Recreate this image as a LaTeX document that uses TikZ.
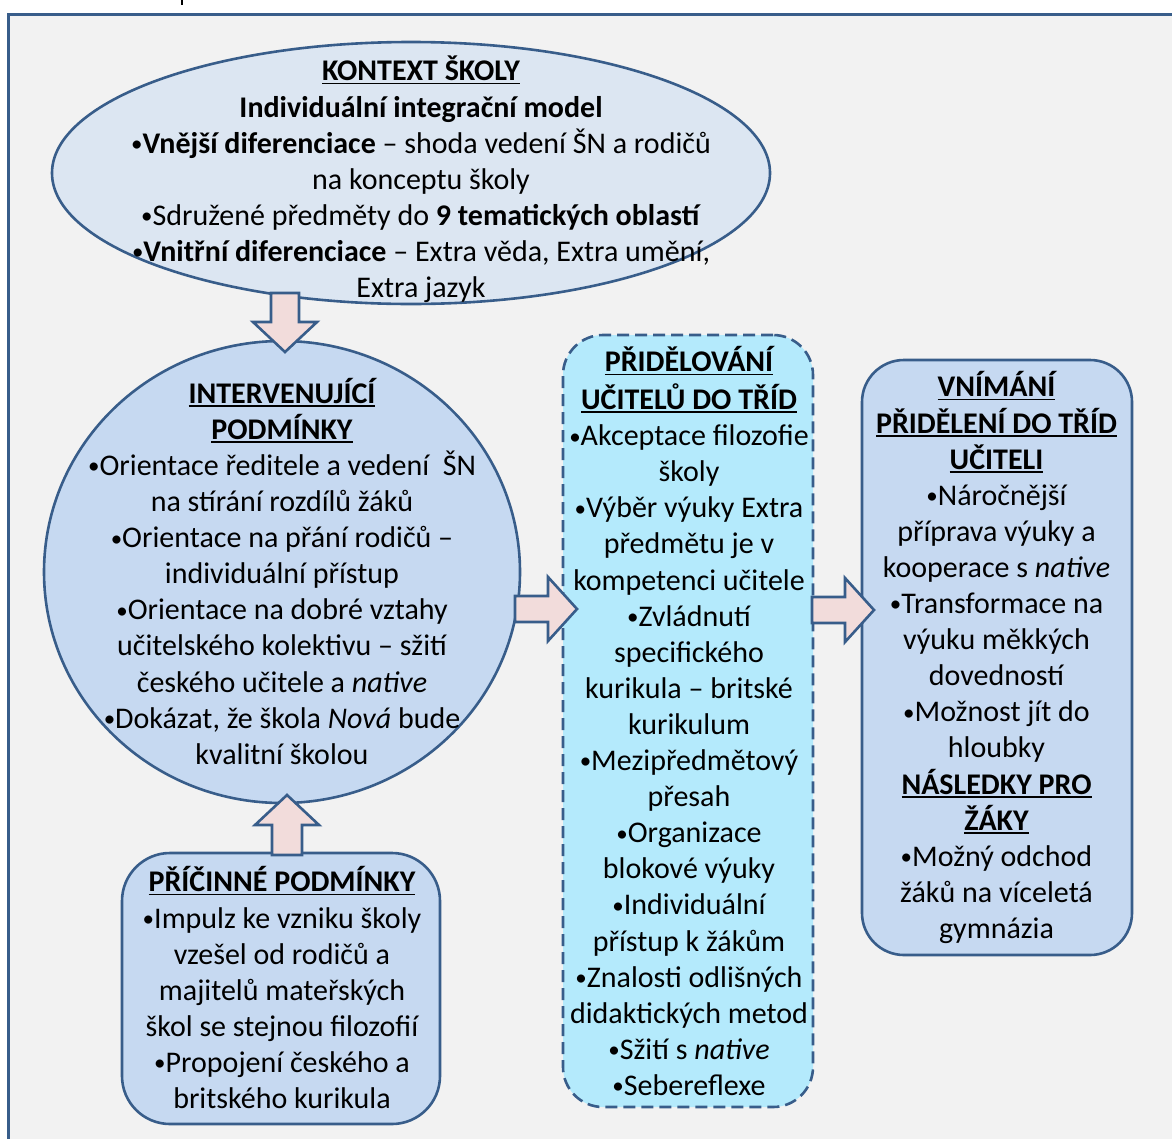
\documentclass[tikz,border=0pt]{standalone}
\usepackage{fontspec}
\setmainfont{Carlito}
\usetikzlibrary{shapes.geometric}

\definecolor{edge}{RGB}{56,93,138}
\definecolor{paper}{RGB}{242,242,242}
\definecolor{ctxfill}{RGB}{220,230,242}
\definecolor{boxfill}{RGB}{198,217,241}
\definecolor{cyanfill}{RGB}{180,234,252}
\definecolor{arrowfill}{RGB}{242,220,219}

% bold heading with an underline
\newcommand\ulhead[1]{\setbox0\hbox{\bfseries #1}\rlap{\rule[-3.5pt]{\wd0}{1.6pt}}\box0}
% small list bullet
\newcommand\bul{\raisebox{1.6pt}{\fontsize{23}{23}\selectfont •}}

% block arrows, drawn from a named tail coordinate
\newcommand\rightblock[1]{\draw[blockarrow,shift={(#1)}] (0,-13) -- (33,-13) -- (33,-32) -- (62,0) -- (33,32) -- (33,13) -- (0,13) -- cycle;}
\newcommand\downblock[1]{\draw[blockarrow,shift={(#1)}] (-14,0) -- (-14,29) -- (-32,29) -- (0,59) -- (32,29) -- (14,29) -- (14,0) -- cycle;}
\newcommand\upblock[1]{\draw[blockarrow,shift={(#1)}] (-15,0) -- (-15,-30) -- (-32,-30) -- (0,-60) -- (32,-30) -- (15,-30) -- (15,0) -- cycle;}

\begin{document}
\begin{tikzpicture}[x=1pt,y=-1pt,
  shapeline/.style={draw=edge,line width=2.6pt,inner sep=0pt},
  blockarrow/.style={draw=edge,fill=arrowfill,line width=2.6pt,line join=miter},
  txt/.style={font=\fontsize{30}{36.1}\selectfont,align=center,inner sep=0pt,text=black}]

\useasboundingbox (0,0) rectangle (1172,1138);
\clip (0,0) rectangle (1172,1138);
\fill[white] (0,0) rectangle (1172,1138);

% page frame
\draw[edge,fill=paper,line width=3pt] (8,14) rectangle (1190,1160);
\draw[black,line width=2pt] (182,0) -- (182,5);

% shapes
\node[shapeline,ellipse,fill=ctxfill,minimum width=718pt,minimum height=262pt] (ctx) at (411,173) {};
\node[shapeline,ellipse,fill=boxfill,minimum width=476pt,minimum height=462pt] (interv) at (282,572) {};
\node[shapeline,rectangle,rounded corners=48pt,fill=boxfill,minimum width=318pt,minimum height=271pt] (cause) at (281,988.5) {};
\node[shapeline,rectangle,rounded corners=40pt,fill=cyanfill,dash pattern=on 12pt off 6pt,minimum width=250pt,minimum height=772pt] (assign) at (688,721) {};
\node[shapeline,rectangle,rounded corners=42pt,fill=boxfill,minimum width=270pt,minimum height=595pt] (percept) at (997,657.5) {};

% connectors
\coordinate (a1) at (285,293);
\coordinate (a2) at (287,855);
\coordinate (a3) at (515,609);
\coordinate (a4) at (812,610);
\downblock{a1}
\upblock{a2}
\rightblock{a3}
\rightblock{a4}

% texts
\node[txt] (ctxtext) at (421,182) {\strut\ulhead{KONTEXT ŠKOLY}\\
\textbf{Individuální integrační model}\\
\bul\textbf{Vnější diferenciace} – shoda vedení ŠN a rodičů\\
na konceptu školy\\
\bul Sdružené předměty do \textbf{9 tematických oblastí}\\
\bul\textbf{Vnitřní diferenciace} – Extra věda, Extra umění,\\
Extra jazyk\strut};

\node[txt] (intervtext) at (282,576.5) {\strut\ulhead{INTERVENUJÍCÍ}\\
\ulhead{PODMÍNKY}\\
\bul Orientace ředitele a vedení\ \ ŠN\\
na stírání rozdílů žáků\\
\bul Orientace na přání rodičů –\\
individuální přístup\\
\bul Orientace na dobré vztahy\\
učitelského kolektivu – sžití\\
českého učitele a \textit{native}\\
\bul Dokázat, že škola \textit{Nová} bude\\
kvalitní školou\strut};

\node[txt] (causetext) at (282,993) {\strut\ulhead{PŘÍČINNÉ PODMÍNKY}\\
\bul Impulz ke vzniku školy\\
vzešel od rodičů a\\
majitelů mateřských\\
škol se stejnou filozofií\\
\bul Propojení českého a\\
britského kurikula\strut};

\node[txt] (assigntext) at (689,726.5) {\strut\ulhead{PŘIDĚLOVÁNÍ}\\
\ulhead{UČITELŮ DO TŘÍD}\\
\bul Akceptace filozofie\\
školy\\
\bul Výběr výuky Extra\\
předmětu je v\\
kompetenci učitele\\
\bul Zvládnutí\\
specifického\\
kurikula – britské\\
kurikulum\\
\bul Mezipředmětový\\
přesah\\
\bul Organizace\\
blokové výuky\\
\bul Individuální\\
přístup k žákům\\
\bul Znalosti odlišných\\
didaktických metod\\
\bul Sžití s \textit{native}\\
\bul Sebereflexe\strut};

\node[txt] (percepttext) at (996.5,660.5) {\strut\ulhead{VNÍMÁNÍ}\\
\ulhead{PŘIDĚLENÍ DO TŘÍD}\\
\ulhead{UČITELI}\\
\bul Náročnější\\
příprava výuky a\\
kooperace s \textit{native}\\
\bul Transformace na\\
výuku měkkých\\
dovedností\\
\bul Možnost jít do\\
hloubky\\
\ulhead{NÁSLEDKY PRO}\\
\ulhead{ŽÁKY}\\
\bul Možný odchod\\
žáků na víceletá\\
gymnázia\strut};

\end{tikzpicture}
\end{document}
